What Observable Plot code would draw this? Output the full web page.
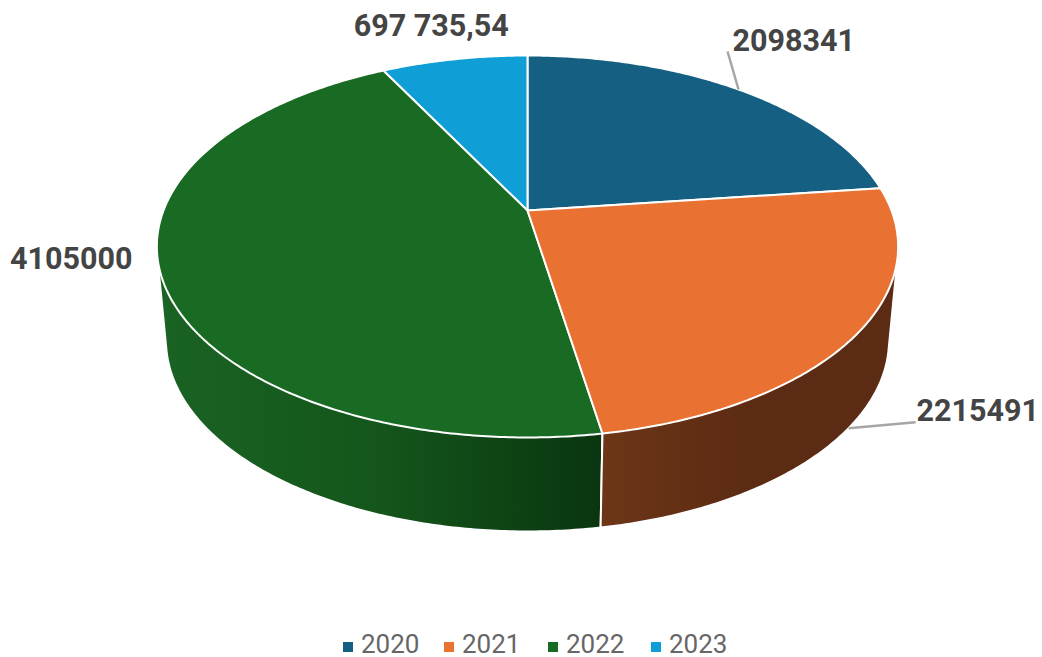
<!DOCTYPE html>
<html>
<head>
<meta charset="utf-8">
<script src="https://cdn.jsdelivr.net/npm/d3@7"></script>
<script src="https://cdn.jsdelivr.net/npm/@observablehq/plot@0.6"></script>
<style>
  html, body { margin: 0; padding: 0; background: #fff; overflow: hidden; }
  #chart svg { display: block; }
  #legend { height: 32px; position: relative; font: 400 26px Roboto, sans-serif; color: #666; }
  #legend .item { position: absolute; top: 0; height: 32px; white-space: nowrap; }
  #legend .swatch { position: absolute; left: 0; top: 17px; width: 10px; height: 10px; }
  #legend .name { position: absolute; top: 0; left: 18px; line-height: 38px; }
</style>
</head>
<body>
<div id="chart"></div>
<div id="legend"></div>
<script>
// Data
const years = ["2020", "2021", "2022", "2023"];
const values = [2098341, 2215491, 4105000, 697735.54];
const labels = ["2098341", "2215491", "4105000", "697 735,54"];
const topColors = ["#156082", "#e97132", "#196b24", "#0f9ed5"];
const wallStops = [
  ["#0b3245", "#0b3245"],
  ["#6d3617", "#5b2b13", "#5b2b13"],
  ["#1a6324", "#14561b", "#0a3510"],
  ["#085470", "#085470"]
];
const drawOrder = [0, 3, 2, 1];
const legendLeft = [343, 444, 548, 651];

// Label placement, as pixel offsets from the rim point at each slice's mid angle
const labelRim = ["top", "bottom", "top", "top"];
const labelDx = [-6, 68, -28, -23];
const labelDy = [-48, -17, -14, -33];
const labelAnchor = ["start", "start", "end", "middle"];
const leaderDx = [-11, 67, null, null];
const leaderDy = [-38, -6, null, null];

// Perspective of the disc
const W = 1042, H = 625;
const centerX = 527, centerY = 210, tilt = 0.1885, depth = 94;
const rim = {
  top: {a: 364, b: 184.2, y0: 0},
  bottom: {a: 355, b: 184.2, y0: -depth}
};
const project = (theta, r) => {
  const sx = Math.sin(theta), cy = Math.cos(theta), w = 1 + tilt * cy;
  return {x: r.a * sx / w, y: r.y0 + r.b * cy / w};
};
const arcPoints = (a0, a1, r) => {
  const n = Math.max(2, Math.ceil((a1 - a0) / 0.01));
  return d3.range(n + 1).map(i => project(a0 + (a1 - a0) * i / n, r));
};

const arcs = d3.pie().sort(null)(values);

const slices = arcs.map((arc, i) => {
  const mid = (arc.startAngle + arc.endAngle) / 2;
  const anchor = project(mid, rim[labelRim[i]]);
  return {
    year: years[i],
    label: labels[i],
    color: topColors[i],
    stops: wallStops[i],
    anchor,
    labelX: anchor.x + labelDx[i],
    labelY: anchor.y - labelDy[i],
    leader: leaderDx[i] == null ? null : {
      x1: anchor.x, y1: anchor.y,
      x2: anchor.x + leaderDx[i], y2: anchor.y - leaderDy[i]
    },
    topPath: [{x: 0, y: 0}, ...arcPoints(arc.startAngle, arc.endAngle, rim.top), {x: 0, y: 0}],
    wallPath: (() => {
      const pts = [...arcPoints(arc.startAngle, arc.endAngle, rim.top),
                   ...arcPoints(arc.startAngle, arc.endAngle, rim.bottom)];
      const hull = d3.polygonHull(pts.map(p => [p.x, p.y]));
      return [...hull, hull[0]].map(([x, y]) => ({x, y}));
    })()
  };
});

// Shaded side walls are filled with horizontal gradients
const gradientDefs = () => {
  const ns = "http://www.w3.org/2000/svg";
  const defs = document.createElementNS(ns, "defs");
  slices.forEach((s, i) => {
    const g = document.createElementNS(ns, "linearGradient");
    g.setAttribute("id", "wall" + i);
    s.stops.forEach((c, j) => {
      const st = document.createElementNS(ns, "stop");
      st.setAttribute("offset", j / (s.stops.length - 1));
      st.setAttribute("stop-color", c);
      g.appendChild(st);
    });
    defs.appendChild(g);
  });
  return defs;
};

const wallMarks = drawOrder.map(i => Plot.line(slices[i].wallPath, {
  x: "x", y: "y", fill: `url(#wall${i})`, stroke: "#fff", strokeWidth: 2, strokeLinejoin: "round"
}));
const topMarks = drawOrder.map(i => Plot.line(slices[i].topPath, {
  x: "x", y: "y", fill: slices[i].color, stroke: "#fff", strokeWidth: 2, strokeLinejoin: "round"
}));
const leaderMark = Plot.link(slices.filter(s => s.leader), {
  x1: s => s.leader.x1, y1: s => s.leader.y1,
  x2: s => s.leader.x2, y2: s => s.leader.y2,
  stroke: "#a6a6a6", strokeWidth: 2.5
});
const labelMarks = labelAnchor.map((anchor, i) => Plot.text([slices[i]], {
  x: "labelX", y: "labelY", text: "label", textAnchor: anchor,
  fill: "#444", fontSize: 30.5, fontWeight: 700, fontFamily: "Roboto, sans-serif"
}));

const chart = Plot.plot({
  width: W, height: H,
  marginTop: 0, marginRight: 0, marginBottom: 0, marginLeft: 0,
  x: {axis: null, domain: [-centerX, W - centerX], range: [0, W]},
  y: {axis: null, domain: [centerY, centerY - H], range: [0, H]},
  style: {background: "#fff", overflow: "visible"},
  marks: [gradientDefs, ...wallMarks, ...topMarks, leaderMark, ...labelMarks]
});
document.getElementById("chart").appendChild(chart);

const legend = d3.select("#legend");
years.forEach((y, i) => {
  const item = legend.append("div").attr("class", "item").style("left", legendLeft[i] + "px");
  item.append("div").attr("class", "swatch").style("background", topColors[i]);
  item.append("div").attr("class", "name").text(y);
});
</script>
</body>
</html>
